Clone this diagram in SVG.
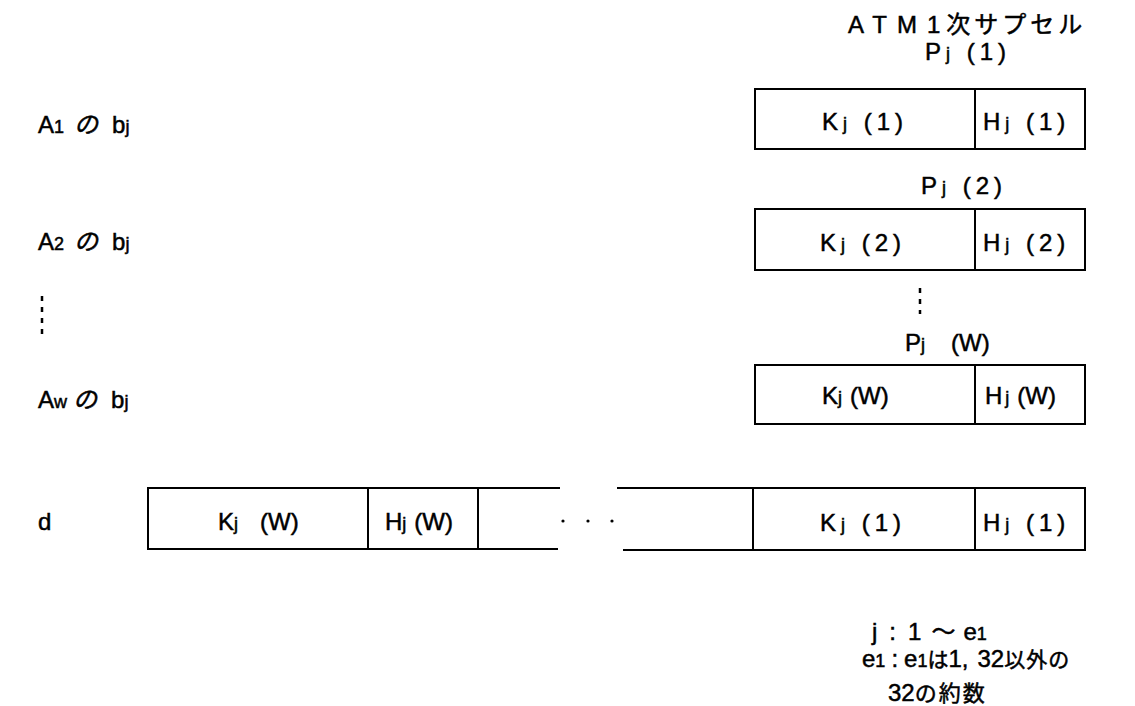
<svg xmlns="http://www.w3.org/2000/svg" width="1135" height="706" viewBox="0 0 1135 706">
<style>
.t{font-family:"Liberation Sans","Noto Sans CJK JP",sans-serif;font-size:24px;fill:#000;stroke:#000;stroke-width:0.5}
.jp{font-family:"Noto Sans CJK JP",sans-serif;fill:#000}
.s{font-size:18px}
.w{letter-spacing:5px}
.box{fill:none;stroke:#000;stroke-width:2}
.ln{stroke:#000;stroke-width:2;fill:none}
.dot{stroke:#000;stroke-width:2.5;stroke-dasharray:5 6;fill:none}
</style>
<rect width="1135" height="706" fill="#fff"/>
<g id="header">
<text class="t" x="848" y="33" font-size="25" letter-spacing="10">ATM1<tspan class="jp" font-size="24" letter-spacing="4" dx="-4">次サプセル</tspan></text>
</g>
<g id="labels-left">
<text class="t" x="38" y="133">A<tspan class="s">1</tspan><tspan class="jp" font-style="italic" dx="10">の</tspan><tspan dx="14">b<tspan class="s">j</tspan></tspan></text>
<text class="t" x="38" y="250">A<tspan class="s">2</tspan><tspan class="jp" font-style="italic" dx="10">の</tspan><tspan dx="14">b<tspan class="s">j</tspan></tspan></text>
<path class="dot" d="M42 296V336"/>
<text class="t" x="38" y="408">A<tspan class="s">w</tspan><tspan class="jp" font-style="italic" dx="6">の</tspan><tspan dx="14">b<tspan class="s">j</tspan></tspan></text>
<text class="t" x="38" y="530">d</text>
</g>
<g id="cell1">
<text class="t w" x="925" y="60">P<tspan class="s">j</tspan> (1)</text>
<rect class="box" x="755" y="89" width="330" height="60"/>
<line class="ln" x1="975" y1="89" x2="975" y2="149"/>
<text class="t w" x="822" y="130">K<tspan class="s">j</tspan> (1)</text>
<text class="t w" x="983" y="130">H<tspan class="s">j</tspan> (1)</text>
</g>
<g id="cell2">
<text class="t w" x="921" y="194">P<tspan class="s">j</tspan> (2)</text>
<rect class="box" x="755" y="209" width="330" height="61"/>
<line class="ln" x1="975" y1="209" x2="975" y2="270"/>
<text class="t w" x="820" y="251">K<tspan class="s">j</tspan> (2)</text>
<text class="t w" x="983" y="251">H<tspan class="s">j</tspan> (2)</text>
</g>
<path class="dot" d="M920 288V314"/>
<g id="cellW">
<text class="t" x="905" y="351">P<tspan class="s">j</tspan><tspan dx="26">(W)</tspan></text>
<rect class="box" x="755" y="365" width="330" height="59"/>
<line class="ln" x1="975" y1="365" x2="975" y2="424"/>
<text class="t" x="822" y="404">K<tspan class="s">j</tspan><tspan dx="8">(W)</tspan></text>
<text class="t" x="985" y="404">H<tspan class="s" dx="3">j</tspan><tspan dx="8">(W)</tspan></text>
</g>
<g id="d-row">
<path class="ln" d="M560 488H148V549H558"/>
<path class="ln" d="M617 488H1085V550H623"/>
<line class="ln" x1="368" y1="488" x2="368" y2="549"/>
<line class="ln" x1="478" y1="488" x2="478" y2="549"/>
<line class="ln" x1="753" y1="488" x2="753" y2="550"/>
<line class="ln" x1="975" y1="488" x2="975" y2="550"/>
<text class="t" x="218" y="530">K<tspan class="s">j</tspan><tspan dx="22">(W)</tspan></text>
<text class="t" x="385" y="530">H<tspan class="s">j</tspan><tspan dx="8">(W)</tspan></text>
<circle cx="563" cy="521" r="1.6"/>
<circle cx="588" cy="521" r="1.6"/>
<circle cx="612" cy="521" r="1.6"/>
<text class="t w" x="820" y="531">K<tspan class="s">j</tspan> (1)</text>
<text class="t w" x="983" y="531">H<tspan class="s">j</tspan> (1)</text>
</g>
<g id="notes">
<text class="t" x="872" y="640">j<tspan dx="12">:</tspan><tspan dx="12">1</tspan><tspan dx="10">～</tspan><tspan dx="8">e<tspan class="s">1</tspan></tspan></text>
<text class="t" x="862" y="667">e<tspan class="s">1</tspan><tspan dx="6">:</tspan><tspan dx="6">e</tspan><tspan class="s">1</tspan><tspan class="jp" font-size="21">は</tspan>1,<tspan dx="9">32</tspan><tspan class="jp" font-size="21" letter-spacing="1">以外の</tspan></text>
<text class="t" x="888" y="701">32<tspan class="jp" font-size="22" letter-spacing="2">の約数</tspan></text>
</g>
</svg>
